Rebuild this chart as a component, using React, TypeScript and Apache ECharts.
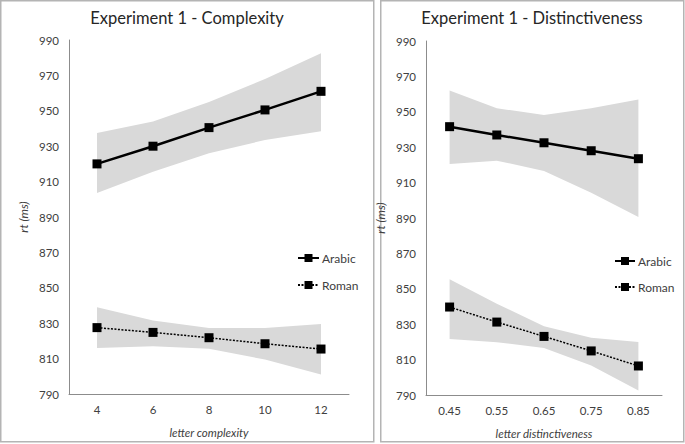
import React, { useEffect, useRef } from "react";
import * as echarts from "echarts";

const complexityCats = ["4", "6", "8", "10", "12"];
const distinctCats = ["0.45", "0.55", "0.65", "0.75", "0.85"];

const cArabic = [920, 930, 940.5, 950.5, 961];
const cArabicLo = [903.5, 915.5, 926, 933.5, 938.5];
const cArabicHi = [937.5, 944, 955, 968, 982.5];
const cRoman = [827.5, 824.8, 821.8, 818.4, 815.4];
const cRomanLo = [816, 817, 815.5, 809.5, 801];
const cRomanHi = [839, 831.5, 827.3, 827.3, 829.5];

const dArabic = [941.6, 936.9, 932.5, 928, 923.5];
const dArabicLo = [920.5, 922.4, 916.6, 904.3, 890.5];
const dArabicHi = [962, 952, 948.2, 952, 957];
const dRoman = [839.7, 831.2, 823.1, 814.9, 806.4];
const dRomanLo = [821.6, 819.8, 816.6, 806.6, 792.5];
const dRomanHi = [855.4, 841.6, 828.8, 822.4, 819.9];

const yTicks = { min: 790, max: 990, interval: 20 };

const FONT = "Lato, 'Open Sans', sans-serif";
const TEXT = "#404040";
const AXIS = "#8c8c8c";
const BAND = "#d9d9d9";

function diff(hi: number[], lo: number[]) {
  return hi.map((v, i) => +(v - lo[i]).toFixed(2));
}

function bandSeries(idx: number, key: string, lo: number[], hi: number[]) {
  return [
    {
      type: "line",
      name: key + "-lo",
      xAxisIndex: idx,
      yAxisIndex: idx,
      stack: key,
      data: lo,
      symbol: "none",
      lineStyle: { opacity: 0 },
      silent: true,
      z: 1,
    },
    {
      type: "line",
      name: key + "-hi",
      xAxisIndex: idx,
      yAxisIndex: idx,
      stack: key,
      data: diff(hi, lo),
      symbol: "none",
      lineStyle: { opacity: 0 },
      areaStyle: { color: BAND, opacity: 1 },
      silent: true,
      z: 1,
    },
  ];
}

function lineSeries(idx: number, name: string, data: number[], dotted: boolean) {
  return {
    type: "line",
    name,
    xAxisIndex: idx,
    yAxisIndex: idx,
    data,
    symbol: "rect",
    symbolSize: 9,
    itemStyle: { color: "#000" },
    lineStyle: dotted
      ? { color: "#000", width: 1.5, type: [2, 1.5] }
      : { color: "#000", width: 2.5 },
    z: 5,
  };
}

function xAxis(idx: number, cats: string[], name: string) {
  return {
    type: "category",
    gridIndex: idx,
    data: cats,
    boundaryGap: true,
    name,
    nameLocation: "middle",
    nameGap: 32,
    nameTextStyle: { fontFamily: FONT, fontSize: 11.5, fontStyle: "italic", color: TEXT },
    axisLine: { lineStyle: { color: AXIS, width: 1 } },
    axisTick: { show: false },
    axisLabel: { fontFamily: FONT, fontSize: 11.5, color: TEXT, margin: 9 },
    splitLine: { show: false },
  };
}

function yAxis(idx: number) {
  return {
    type: "value",
    gridIndex: idx,
    min: yTicks.min,
    max: yTicks.max,
    interval: yTicks.interval,
    name: "rt (ms)",
    nameLocation: "middle",
    nameGap: 40,
    nameTextStyle: { fontFamily: FONT, fontSize: 12, fontStyle: "italic", color: TEXT },
    axisLine: { show: true, lineStyle: { color: AXIS, width: 1 } },
    axisTick: { show: false },
    axisLabel: { fontFamily: FONT, fontSize: 11.5, color: TEXT, margin: 10 },
    splitLine: { show: false },
  };
}

function legend(left: number, top: number, itemWidth: number, itemGap: number) {
  return {
    data: ["Arabic", "Roman"],
    orient: "vertical",
    left,
    top,
    padding: 0,
    itemWidth,
    itemHeight: 10,
    itemGap,
    textStyle: { fontFamily: FONT, fontSize: 12, color: TEXT, padding: [0, 0, 0, -2] },
    selectedMode: false,
  };
}

export default function App() {
  const ref = useRef<HTMLDivElement>(null);
  useEffect(() => {
    if (!ref.current) return;
    const chart = echarts.init(ref.current, undefined, { renderer: "svg" });
    chart.setOption({
      animation: false,
      backgroundColor: "#fff",
      grid: [
        { left: 69, top: 40, width: 280, height: 354 },
        { left: 426, top: 41, width: 236, height: 354 },
      ],
      xAxis: [
        xAxis(0, complexityCats, "letter complexity"),
        xAxis(1, distinctCats, "letter distinctiveness"),
      ],
      yAxis: [yAxis(0), yAxis(1)],
      legend: [legend(297, 252, 21, 15), legend(614, 255, 20, 14)],
      graphic: [
        {
          type: "rect",
          shape: { x: 0.75, y: 0.75, width: 373, height: 441 },
          style: { fill: "none", stroke: "#b4b4b4", lineWidth: 1.5 },
          silent: true,
        },
        {
          type: "rect",
          shape: { x: 380.75, y: 0.75, width: 303, height: 441 },
          style: { fill: "none", stroke: "#b4b4b4", lineWidth: 1.5 },
          silent: true,
        },
        {
          type: "text",
          x: 187,
          y: 18,
          style: {
            text: "Experiment 1 - Complexity",
            align: "center",
            verticalAlign: "middle",
            fontFamily: FONT,
            fontSize: 16.5,
            fill: "#262626",
          },
        },
        {
          type: "text",
          x: 532,
          y: 18,
          style: {
            text: "Experiment 1 - Distinctiveness",
            align: "center",
            verticalAlign: "middle",
            fontFamily: FONT,
            fontSize: 16.5,
            fill: "#262626",
          },
        },
      ],
      series: [
        ...bandSeries(0, "ca", cArabicLo, cArabicHi),
        ...bandSeries(0, "cr", cRomanLo, cRomanHi),
        ...bandSeries(1, "da", dArabicLo, dArabicHi),
        ...bandSeries(1, "dr", dRomanLo, dRomanHi),
        lineSeries(0, "Arabic", cArabic, false),
        lineSeries(0, "Roman", cRoman, true),
        lineSeries(1, "Arabic", dArabic, false),
        lineSeries(1, "Roman", dRoman, true),
      ],
    });
    return () => chart.dispose();
  }, []);
  return (
    <div
      ref={ref}
      style={{ position: "absolute", left: 0, top: 0, width: 685, height: 444 }}
    />
  );
}
